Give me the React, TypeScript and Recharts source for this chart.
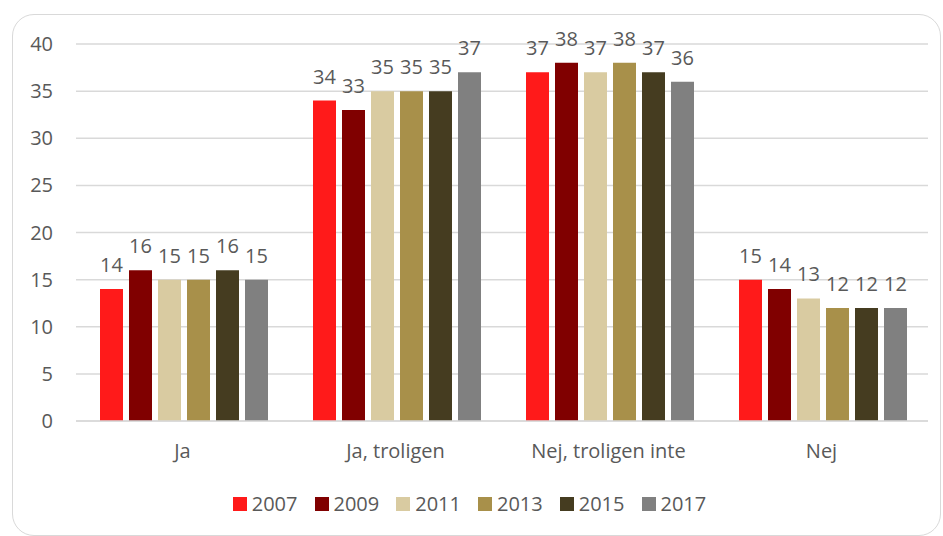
import React from "react";
import { BarChart, Bar, XAxis, YAxis, CartesianGrid, Legend, LabelList } from "recharts";

const categories = ["Ja", "Ja, troligen", "Nej, troligen inte", "Nej"];
const years = ["2007", "2009", "2011", "2013", "2015", "2017"];
const v2007 = [14, 34, 37, 15];
const v2009 = [16, 33, 38, 14];
const v2011 = [15, 35, 37, 13];
const v2013 = [15, 35, 38, 12];
const v2015 = [16, 35, 37, 12];
const v2017 = [15, 37, 36, 12];
const yTicks = [0, 5, 10, 15, 20, 25, 30, 35, 40];
const colors = ["#FF1A1A", "#800000", "#D9CBA1", "#A8904A", "#453C20", "#808080"];

const seriesValues = [v2007, v2009, v2011, v2013, v2015, v2017];
const data = categories.map((c, i) => {
  const row: Record<string, string | number> = { name: c };
  years.forEach((y, k) => {
    row[y] = seriesValues[k][i];
  });
  return row;
});

const FONT = "'Open Sans', sans-serif";
const TEXT = "#595959";

const LegendContent = () => (
  <div
    style={{
      display: "flex",
      justifyContent: "center",
      alignItems: "center",
      height: 30,
      fontFamily: FONT,
      fontSize: 20,
      color: TEXT,
      paddingRight: 4,
      boxSizing: "border-box",
    }}
  >
    {years.map((y, i) => (
      <div
        key={y}
        style={{
          display: "flex",
          alignItems: "center",
          marginRight: i < years.length - 1 ? 17 : 0,
        }}
      >
        <div style={{ width: 14, height: 14, background: colors[i], marginRight: 5 }} />
        <span style={{ lineHeight: "30px" }}>{y}</span>
      </div>
    ))}
  </div>
);

export default function App() {
  return (
    <div style={{ position: "absolute", left: 0, top: 0, width: 943, height: 536, background: "#fff" }}>
      <div
        style={{
          position: "absolute",
          left: 12,
          top: 14,
          width: 929,
          height: 522,
          border: "1.5px solid #d9d9d9",
          borderRadius: 22,
          boxSizing: "border-box",
        }}
      />
      <div style={{ position: "absolute", left: 0, top: 0 }}>
        <BarChart
          width={943}
          height={536}
          data={data}
          margin={{ top: 44, right: 15, left: 0, bottom: 17 }}
          barCategoryGap={24}
          barGap={6}
        >
          <CartesianGrid vertical={false} stroke="#d9d9d9" strokeWidth={1.5} />
          <XAxis
            dataKey="name"
            height={68}
            tickSize={0}
            tickMargin={23}
            axisLine={{ stroke: "#d9d9d9", strokeWidth: 1.5 }}
            tick={{ fill: TEXT, fontSize: 20, fontFamily: FONT }}
          />
          <YAxis
            width={76}
            domain={[0, 40]}
            ticks={yTicks}
            tickSize={0}
            tickMargin={23}
            axisLine={false}
            tick={{ fill: TEXT, fontSize: 20, fontFamily: FONT }}
          />
          <Legend
            verticalAlign="bottom"
            content={<LegendContent />}
            wrapperStyle={{ left: 0, width: 943 }}
          />
          {years.map((y, i) => (
            <Bar key={y} dataKey={y} fill={colors[i]} isAnimationActive={false}>
              <LabelList
                dataKey={y}
                position="top"
                offset={17}
                fill={TEXT}
                fontSize={20}
                fontFamily={FONT}
              />
            </Bar>
          ))}
        </BarChart>
      </div>
    </div>
  );
}
